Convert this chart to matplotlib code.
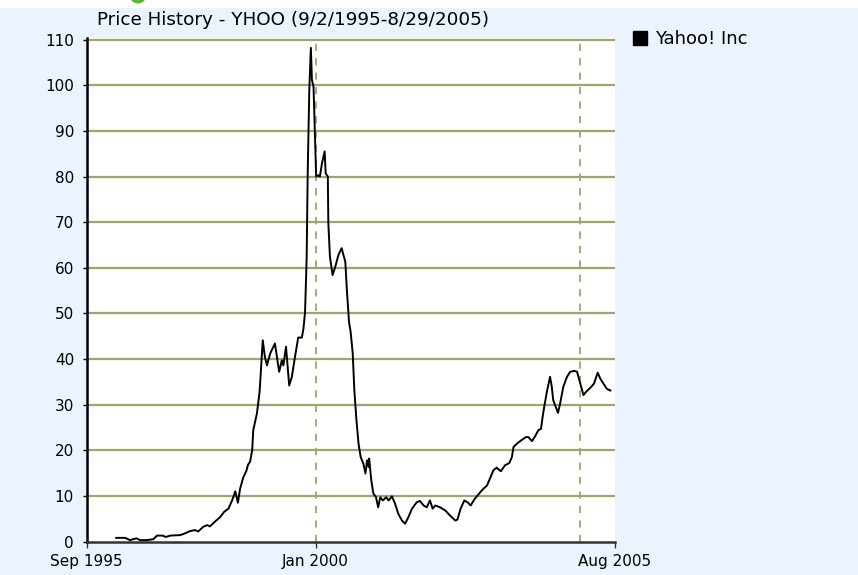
import matplotlib
matplotlib.use("Agg")
import matplotlib.pyplot as plt
import matplotlib.patches as mpatches
from matplotlib.lines import Line2D
from datetime import datetime

# ---- data (decimal year, closing price) ----
years = [1996.23, 1996.40, 1996.49, 1996.61, 1996.68, 1996.81, 1996.93, 1997.00, 1997.10, 1997.17,
         1997.25, 1997.44, 1997.51, 1997.63, 1997.72, 1997.78, 1997.87, 1997.95, 1998.00, 1998.10,
         1998.19, 1998.27, 1998.35, 1998.42, 1998.48, 1998.53, 1998.57, 1998.63, 1998.69, 1998.72,
         1998.76, 1998.80, 1998.82, 1998.89, 1998.94, 1998.98, 1999.00, 1999.04, 1999.08, 1999.14,
         1999.23, 1999.31, 1999.36, 1999.39, 1999.44, 1999.50, 1999.55, 1999.61, 1999.67, 1999.74,
         1999.77, 1999.80, 1999.83, 1999.85, 1999.88, 1999.91, 1999.93, 1999.96, 1999.99, 2000.01,
         2000.05, 2000.08, 2000.12, 2000.17, 2000.19, 2000.23, 2000.24, 2000.27, 2000.32, 2000.37,
         2000.43, 2000.49, 2000.56, 2000.59, 2000.63, 2000.66, 2000.70, 2000.73, 2000.77, 2000.81,
         2000.85, 2000.90, 2000.94, 2000.97, 2001.00, 2001.01, 2001.05, 2001.09, 2001.14, 2001.18,
         2001.22, 2001.27, 2001.33, 2001.38, 2001.44, 2001.50, 2001.56, 2001.63, 2001.69, 2001.75,
         2001.82, 2001.91, 2001.97, 2002.04, 2002.10, 2002.16, 2002.21, 2002.26, 2002.35, 2002.45,
         2002.54, 2002.64, 2002.68, 2002.74, 2002.81, 2002.87, 2002.93, 2003.01, 2003.06, 2003.14,
         2003.24, 2003.28, 2003.36, 2003.42, 2003.50, 2003.58, 2003.66, 2003.71, 2003.74, 2003.80,
         2003.90, 2003.98, 2004.02, 2004.09, 2004.15, 2004.21, 2004.26, 2004.29, 2004.32, 2004.37,
         2004.43, 2004.46, 2004.49, 2004.55, 2004.58, 2004.62, 2004.68, 2004.75, 2004.81, 2004.89,
         2004.94, 2005.00, 2005.06, 2005.11, 2005.19, 2005.26, 2005.33, 2005.38, 2005.44, 2005.50,
         2005.57]
prices = [0.8, 0.8, 0.3, 0.7, 0.3, 0.3, 0.5, 1.3, 1.3, 1.0,
          1.3, 1.4, 1.7, 2.3, 2.5, 2.2, 3.2, 3.6, 3.3, 4.4,
          5.3, 6.5, 7.2, 9.0, 11.0, 8.5, 11.5, 14.0, 15.5, 16.8,
          17.5, 20.0, 24.4, 28.1, 32.8, 40.5, 44.1, 40.5, 38.6, 41.2,
          43.4, 37.2, 39.7, 38.6, 42.7, 34.2, 36.1, 40.5, 44.7, 44.7,
          46.7, 50.3, 62.0, 80.7, 99.0, 108.2, 101.2, 99.7, 87.4, 80.0,
          80.3, 80.0, 82.9, 85.5, 80.7, 80.0, 69.7, 62.4, 58.4, 60.2,
          62.8, 64.3, 61.3, 55.0, 48.1, 46.0, 41.2, 33.2, 26.6, 21.4,
          18.5, 17.1, 14.9, 17.8, 16.3, 18.2, 13.4, 10.5, 9.7, 7.5,
          9.7, 9.0, 9.7, 9.0, 9.9, 8.3, 6.1, 4.6, 3.9, 5.3,
          7.2, 8.6, 8.9, 7.9, 7.5, 9.0, 7.2, 7.9, 7.5, 6.8,
          5.7, 4.6, 4.8, 7.2, 9.0, 8.6, 7.9, 9.4, 10.1, 11.2,
          12.3, 13.4, 15.6, 16.2, 15.4, 16.7, 17.2, 18.5, 20.7, 21.4,
          22.3, 22.9, 22.9, 22.0, 23.1, 24.4, 24.7, 27.3, 29.5, 32.8,
          36.1, 34.2, 31.0, 29.1, 28.2, 30.2, 33.9, 36.1, 37.2, 37.4,
          37.2, 34.6, 32.1, 32.8, 33.7, 34.6, 37.0, 35.7, 34.6, 33.5,
          33.1]
series_name = "Yahoo! Inc"
title = "Price History - YHOO (9/2/1995-8/29/2005)"
yticks = list(range(0, 111, 10))
xtick_dates = [datetime(1995, 9, 2), datetime(2000, 1, 1), datetime(2005, 8, 29)]
xtick_labels = ["Sep 1995", "Jan 2000", "Aug 2005"]
vgrid_dates = [datetime(2000, 1, 1), datetime(2005, 1, 1)]


def dec_to_dt(y):
    yr = int(y)
    a = datetime(yr, 1, 1)
    b = datetime(yr + 1, 1, 1)
    return a + (b - a) * (y - yr)


dates = [dec_to_dt(y) for y in years]

W, H = 858, 575
BG = "#ebf3fe"
GRID = "#a3a36e"
plt.rcParams["font.family"] = ["DejaVu Sans"]

fig = plt.figure(figsize=(W / 100, H / 100), dpi=100, facecolor=BG)
# white strip at the top and green decoration
fig.patches.append(mpatches.Rectangle((0, 1 - 8 / H), 1, 8 / H, transform=fig.transFigure,
                                      facecolor="white", edgecolor="none", zorder=0))
fig.patches.append(mpatches.Ellipse((138 / W, 1 + 5 / H), 17 / W, 17 / H, transform=fig.transFigure,
                                    facecolor="#5cb82e", edgecolor="none", zorder=1))

left, right = 86.5, 615.0
top, bottom = 38.0, 541.5
ax = fig.add_axes([left / W, 1 - bottom / H, (right - left) / W, (bottom - top) / H])
ax.set_facecolor("white")

ax.set_xlim(datetime(1995, 9, 2), datetime(2005, 8, 29))
ax.set_ylim(0, 110 + 1.7 / 4.56)

for v in yticks[1:]:
    ax.axhline(v, color=GRID, lw=1.6, zorder=1)
for d in vgrid_dates:
    ax.axvline(d, color=GRID, lw=1.3, ls=(0, (4, 4)), zorder=1)

ax.plot(dates, prices, color="black", lw=1.4, zorder=3)

ax.set_yticks(yticks)
ax.set_yticklabels([str(v) for v in yticks], fontsize=11)
ax.set_xticks(xtick_dates)
ax.set_xticklabels(xtick_labels, fontsize=11)
ax.tick_params(axis="y", length=3, width=1, color="black", pad=6)
ax.tick_params(axis="x", length=4, width=1, color="#333333", pad=5)

for s in ["top", "right"]:
    ax.spines[s].set_visible(False)
ax.spines["left"].set_color("black")
ax.spines["left"].set_linewidth(1.8)
ax.spines["bottom"].set_color("#333333")
ax.spines["bottom"].set_linewidth(1.8)

fig.text(97 / W, 1 - 20 / H, title, fontsize=13.2, ha="left", va="center")

handle = Line2D([], [], marker="s", color="black", ls="None", markersize=10)
fig.legend([handle], [series_name], loc="center left",
           bbox_to_anchor=(624 / W, 1 - 39 / H), frameon=False, fontsize=13,
           handletextpad=0.3, handlelength=1.0, borderaxespad=0)

fig.savefig("out.png", dpi=100, facecolor=BG)
